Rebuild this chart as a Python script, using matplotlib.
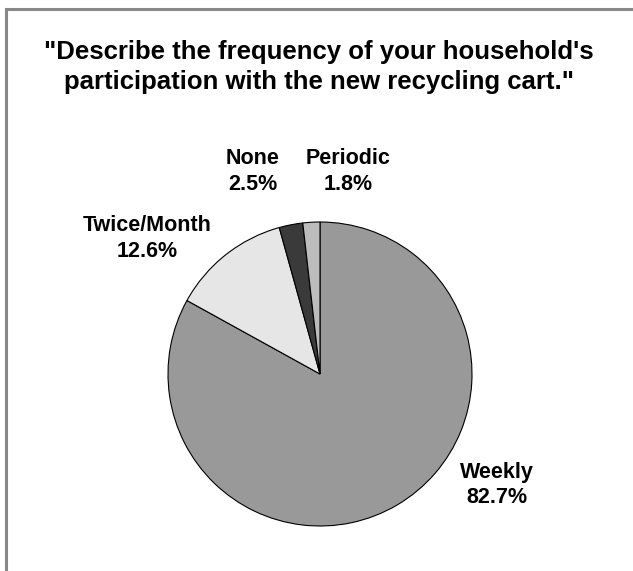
import matplotlib.pyplot as plt
from matplotlib.patches import Rectangle

# Survey responses (percent of households)
categories = ['Weekly', 'Twice/Month', 'None', 'Periodic']
shares = [82.7, 12.6, 2.5, 1.8]
title = '"Describe the frequency of your household\'s\nparticipation with the new recycling cart."'

colors = ['#999999', '#e6e6e6', '#3a3a3a', '#bcbcbc']
# label block centres, in pie-radius units
label_pos = [(1.164, -0.73), (-1.138, 0.89), (-0.441, 1.33), (0.184, 1.33)]

plt.rcParams['font.family'] = ['Liberation Sans', 'DejaVu Sans']

W, H = 633, 571
fig = plt.figure(figsize=(W / 100, H / 100), dpi=100)
fig.patch.set_facecolor('white')

# pie centre at (320, 374) px from top-left, radius 152 px
cx, cy, r = 320, 374, 152
ax = fig.add_axes([(cx - r) / W, (H - cy - r) / H, 2 * r / W, 2 * r / H])
ax.pie(shares, colors=colors, startangle=90, counterclock=False,
       wedgeprops=dict(edgecolor='black', linewidth=0.8))
ax.set_xlim(-1, 1)
ax.set_ylim(-1, 1)
ax.set_aspect('auto')
ax.axis('off')

for name, val, (x, y) in zip(categories, shares, label_pos):
    ax.text(x, y, f'{name}\n{val:.1f}%', ha='center', va='center',
            fontsize=15.5, fontweight='bold', linespacing=1.3)

fig.text(319 / W, 1 - 67 / H, title, ha='center', va='center',
         fontsize=18.5, fontweight='bold', linespacing=1.33)

# grey frame (top and left edges visible)
fig.add_artist(Rectangle((6 / W, -0.1), 2, (1 - 9 / H) + 0.1, transform=fig.transFigure,
                         fill=False, edgecolor='#888888', linewidth=2.2))

plt.savefig('out.png', dpi=100)
